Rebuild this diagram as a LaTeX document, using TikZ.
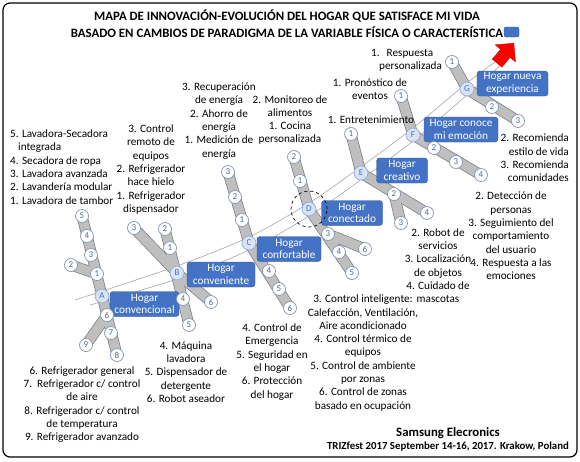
\documentclass[tikz,border=0pt]{standalone}
\usepackage{fontspec}
\setmainfont{Carlito}
\usetikzlibrary{positioning, shapes.arrows}
\definecolor{boxblue}{HTML}{4472C4}
\definecolor{boxedge}{HTML}{2F5597}
\definecolor{bargray}{HTML}{BFBFBF}
\definecolor{bardark}{HTML}{7F7F7F}
\definecolor{numedge}{HTML}{8497B0}
\definecolor{numtext}{HTML}{4A6A9C}
\definecolor{letterfill}{HTML}{DAE3F3}
\definecolor{letteredge}{HTML}{8FAADC}
\definecolor{axisgray}{HTML}{A6A6A6}
\pgfdeclarelayer{background}
\pgfsetlayers{background,main}
\tikzset{
  num/.style={circle, draw=numedge, fill=white, text=numtext, line width=0.7pt,
              minimum size=13pt, inner sep=0pt, font=\fontsize{9}{9}\selectfont},
  letter/.style={num, fill=letterfill, draw=letteredge, text=boxblue, minimum size=14pt},
  stage/.style={rectangle, rounded corners=3pt, draw=boxedge, fill=boxblue, text=white,
                align=center, inner xsep=3pt, inner ysep=1pt, minimum height=25pt,
                font=\fontsize{11.3}{12.8}\selectfont},
  note/.style={align=center, inner sep=0pt, font=\fontsize{11.2}{13.3}\selectfont},
  heading/.style={align=center, inner sep=0pt, font=\bfseries\fontsize{12.8}{17}\selectfont},
  baroutline/.style={line width=11pt, draw=bardark, line cap=round},
  barcore/.style={line width=9.5pt, draw=bargray, line cap=round},
  axisline/.style={draw=axisgray, line width=0.6pt}
}
\def\barlist{A5/A8, A2/A1, A9/A6, B2/B5, B3/B, B/B6, C3/C, C/C6, D2/D, D/D5, D3/D6,
  E1/E, E/E4, E2/E3, F1/F, F/F4, G1/G, G/G3}

\begin{document}
\begin{tikzpicture}[x=1pt, y=-1pt]
\useasboundingbox (0,0) rectangle (580,461);
\draw[line width=1.2pt, rounded corners=7pt] (3,3) rectangle (577,457);

% title
\node[heading] (title) at (287,24) {MAPA DE INNOVACIÓN-EVOLUCIÓN DEL HOGAR QUE SATISFACE MI VIDA\\
  BASADO EN CAMBIOS DE PARADIGMA DE LA VARIABLE FÍSICA O CARACTERÍSTICA};
\node[rectangle, rounded corners=2pt, fill=boxblue, draw=boxedge, minimum width=15pt,
      minimum height=10pt, inner sep=0pt] (legend) at (511.5,32) {};

% stages
\node[letter] (A) at (102,296) {A};
\node[letter] (B) at (177,273) {B};
\node[letter] (C) at (249,243) {C};
\node[letter] (D) at (309,209) {D};
\node[letter] (E) at (361,173) {E};
\node[letter] (F) at (413,135) {F};
\node[letter] (G) at (467,89) {G};

\node[stage, minimum width=69pt] (sA) at (144.5,304) {Hogar\\convencional};
\node[stage, minimum width=68pt] (sB) at (221,274.5) {Hogar\\conveniente};
\node[stage, minimum width=64pt] (sC) at (289,249) {Hogar\\confortable};
\node[stage, minimum width=61pt] (sD) at (352,213) {Hogar\\conectado};
\node[stage, minimum width=51pt] (sE) at (402,170.5) {Hogar\\creativo};
\node[stage, minimum width=74pt] (sF) at (461,129.5) {Hogar conoce\\mi emoción};
\node[stage, minimum width=71pt] (sG) at (512.5,83.5) {Hogar nueva\\experiencia};

% branch circles
\node[num] (A1) at (97,274) {1};
\node[num] (A2) at (71,265) {2};
\node[num] (A3) at (91,255) {3};
\node[num] (A4) at (87,236) {4};
\node[num] (A5) at (82,216) {5};
\node[num] (A6) at (107,315) {6};
\node[num] (A7) at (111,333) {7};
\node[num] (A8) at (117,355) {8};
\node[num] (A9) at (86,345) {9};

\node[num] (B1) at (170,248) {1};
\node[num] (B2) at (165,229) {2};
\node[num] (B3) at (134,228) {3};
\node[num] (B4) at (183,299) {4};
\node[num] (B5) at (189,325) {5};
\node[num] (B6) at (211,302) {6};

\node[num] (C1) at (242,220) {1};
\node[num] (C2) at (235,197) {2};
\node[num] (C3) at (228,172) {3};
\node[num] (C4) at (269,271) {4};
\node[num] (C5) at (279,289) {5};
\node[num] (C6) at (290,308) {6};

\node[num] (D1) at (300,181) {1};
\node[num] (D2) at (294,157) {2};
\node[num] (D3) at (328,234) {3};
\node[num] (D4) at (339,252) {4};
\node[num] (D5) at (352,273) {5};
\node[num] (D6) at (365,249) {6};

\node[num] (E1) at (351,134) {1};
\node[num] (E2) at (394,194) {2};
\node[num] (E3) at (401,223) {3};
\node[num] (E4) at (427,213) {4};

\node[num] (F1) at (401,96) {1};
\node[num] (F2) at (434,148) {2};
\node[num] (F3) at (456,162) {3};
\node[num] (F4) at (481,175) {4};

\node[num] (G1) at (452,62) {1};
\node[num] (G2) at (492,107) {2};
\node[num] (G3) at (518,121) {3};

\draw[dashed, line width=0.7pt] (D) circle[radius=18pt];

% goal arrow
\node[single arrow, fill=red, draw=red!80!black, line width=0.4pt, inner sep=6pt,
      single arrow head extend=7pt, minimum height=26pt, rotate=50, anchor=tip] (goal) at (514,43) {};

% labels
\node[note, align=left, anchor=west] (atop) at (10,167) {5. Lavadora-Secadora\\\hspace*{8pt}integrada\\
  4. Secadora de ropa\\3. Lavadora avanzada\\2. Lavandería modular\\1. Lavadora de tambor};
\node[note] (btop) at (151,169.5) {3. Control\\remoto de\\equipos\\2. Refrigerador\\hace hielo\\
  1. Refrigerador\\dispensador};
\node[note] (ctop) at (219,121) {3. Recuperación\\de energía\\2. Ahorro de\\energía\\1. Medición de\\energía};
\node[note] (dtop) at (290,120) {2. Monitoreo de\\alimentos\\1. Cocina\\personalizada};
\node[note] (etop) at (371,120) {1. Entretenimiento};
\node[note] (ftop) at (370,89) {1. Pronóstico de\\eventos};
\node[note, align=left, anchor=west] (gtop) at (371,60.5) {1.\hspace{7pt}Respuesta\\\hspace*{8pt}personalizada};
\node[note, align=right, anchor=east] (gright) at (569,158) {2. Recomienda\\estilo de vida\\3. Recomienda\\comunidades};
\node[note] (fright) at (511,236) {2. Detección de\\personas\\3. Seguimiento del\\comportamiento\\
  del usuario\\4. Respuesta a las\\emociones};
\node[note] (ebot) at (438,265.5) {2. Robot de\\servicios\\3. Localización\\de objetos\\4. Cuidado de\\mascotas};
\node[note] (dbot) at (363,353) {3. Control inteligente:\\Calefacción, Ventilación,\\Aire acondicionado\\
  4. Control térmico de\\equipos\\5. Control de ambiente\\por zonas\\6. Control de zonas\\basado en ocupación};
\node[note] (cbot) at (272,362) {4. Control de\\Emergencia\\5. Seguridad en\\el hogar\\6. Protección\\del hogar};
\node[note] (bbot) at (186,372) {4. Máquina\\lavadora\\5. Dispensador de\\detergente\\6. Robot aseador};
\node[note] (abot) at (82,404.5) {6. Refrigerador general\\7.\ \ Refrigerador c/ control\\de aire\\
  8. Refrigerador c/ control\\de temperatura\\9. Refrigerador avanzado};

% footer
\node[align=center, inner sep=0pt, font=\bfseries\fontsize{10.8}{13}\selectfont] (footer) at (448,439.5)
  {{\fontsize{12.8}{13}\selectfont Samsung Elecronics}\\TRIZfest 2017 September 14-16, 2017. Krakow, Poland};

\begin{pgfonlayer}{background}
\draw[axisline] plot[smooth] coordinates {(75,300) (177,266) (249,237) (309,203) (362,166)
  (413,128) (467,83) (498,60)};
\draw[axisline] plot[smooth] coordinates {(90,305) (177,279) (249,250) (309,216) (362,179)
  (413,141) (467,95) (502,64)};
\foreach \s/\t in \barlist \draw[baroutline] (\s.center) -- (\t.center);
\foreach \s/\t in \barlist \draw[barcore] (\s.center) -- (\t.center);
\end{pgfonlayer}
\end{tikzpicture}
\end{document}
